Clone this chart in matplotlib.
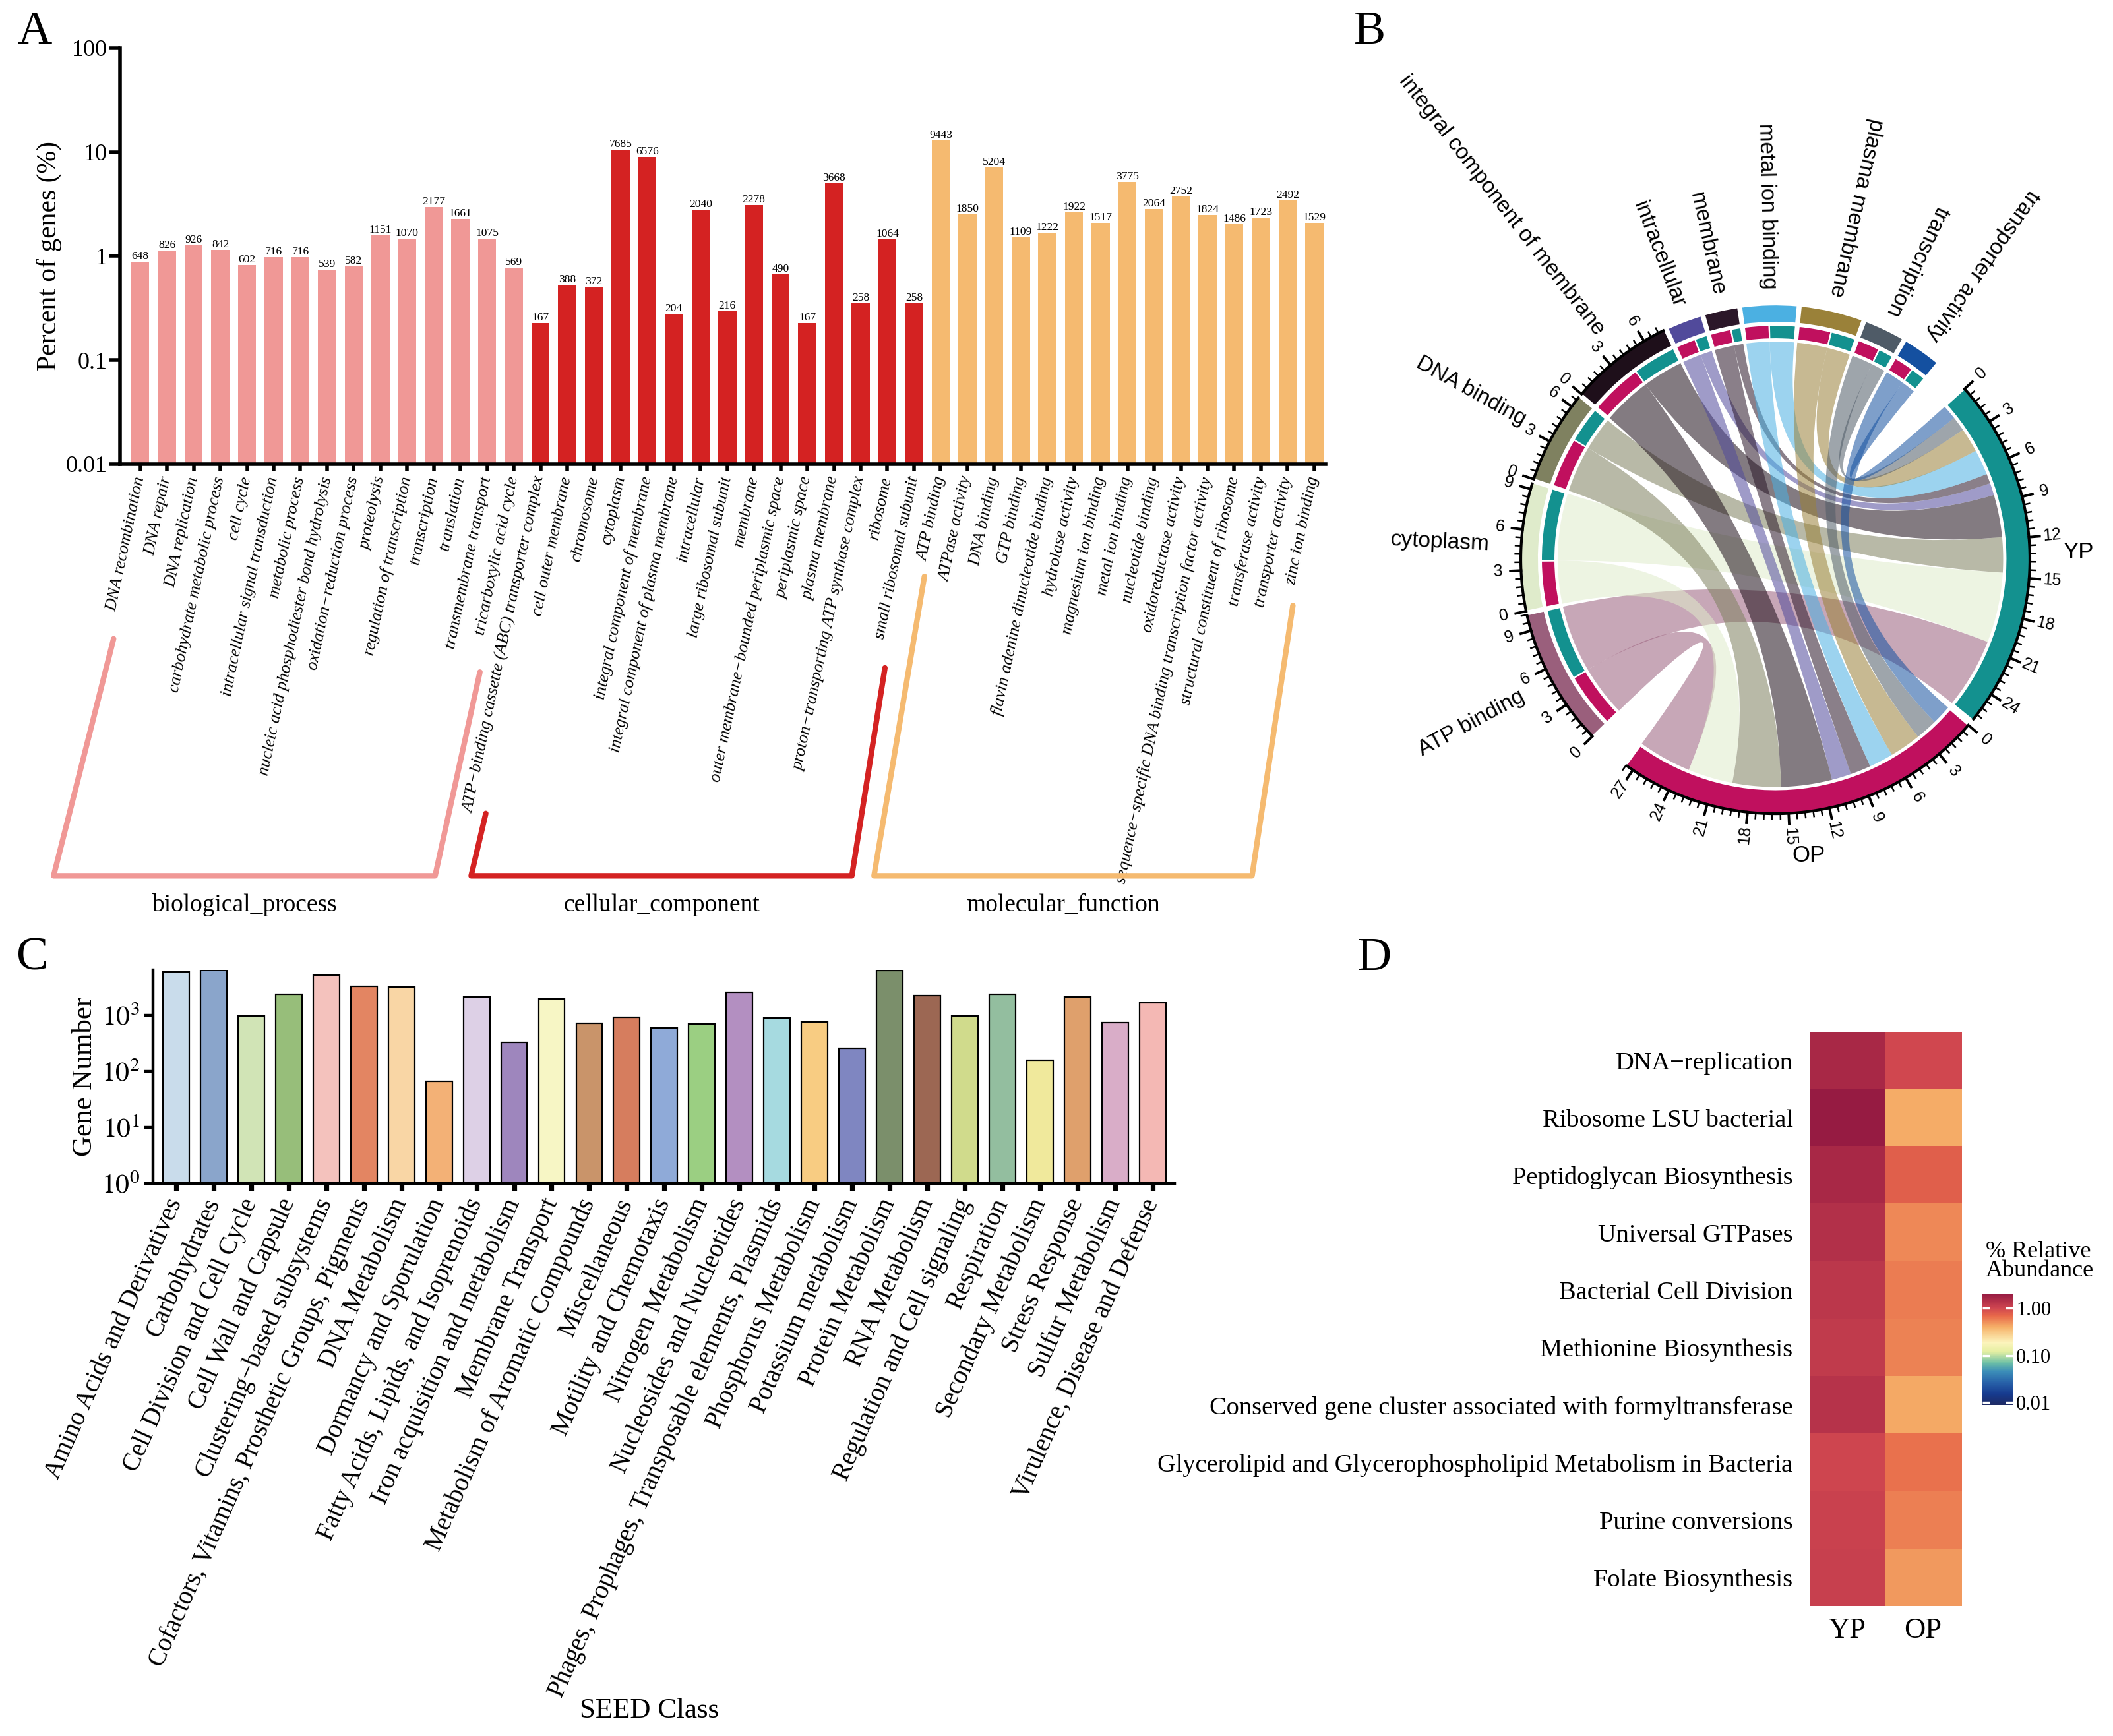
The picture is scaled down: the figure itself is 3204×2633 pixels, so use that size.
import numpy as np
import matplotlib
matplotlib.use("Agg")
import matplotlib.pyplot as plt
import matplotlib.transforms as mtransforms
from matplotlib.path import Path
from matplotlib.patches import PathPatch, Wedge
from matplotlib.colors import LinearSegmentedColormap, LogNorm
from matplotlib.ticker import NullLocator

plt.rcParams["font.family"] = ["Liberation Serif", "DejaVu Serif"]
plt.rcParams["mathtext.fontset"] = "stix"

#panel A - GO terms and gene counts
bp_terms = ["DNA recombination", "DNA repair", "DNA replication", "carbohydrate metabolic process",
            "cell cycle", "intracellular signal transduction", "metabolic process",
            "nucleic acid phosphodiester bond hydrolysis", "oxidation\u2212reduction process",
            "proteolysis", "regulation of transcription", "transcription", "translation",
            "transmembrane transport", "tricarboxylic acid cycle"]
bp_counts = [648, 826, 926, 842, 602, 716, 716, 539, 582, 1151, 1070, 2177, 1661, 1075, 569]

cc_terms = ["ATP\u2212binding cassette (ABC) transporter complex", "cell outer membrane", "chromosome",
            "cytoplasm", "integral component of membrane", "integral component of plasma membrane",
            "intracellular", "large ribosomal subunit", "membrane",
            "outer membrane\u2212bounded periplasmic space", "periplasmic space", "plasma membrane",
            "proton\u2212transporting ATP synthase complex", "ribosome", "small ribosomal subunit"]
cc_counts = [167, 388, 372, 7685, 6576, 204, 2040, 216, 2278, 490, 167, 3668, 258, 1064, 258]

mf_terms = ["ATP binding", "ATPase activity", "DNA binding", "GTP binding",
            "flavin adenine dinucleotide binding", "hydrolase activity", "magnesium ion binding",
            "metal ion binding", "nucleotide binding", "oxidoreductase activity",
            "sequence\u2212specific DNA binding transcription factor activity",
            "structural constituent of ribosome", "transferase activity", "transporter activity",
            "zinc ion binding"]
mf_counts = [9443, 1850, 5204, 1109, 1222, 1922, 1517, 3775, 2064, 2752, 1824, 1486, 1723, 2492, 1529]

total_genes = 73190
group_names = ["biological_process", "cellular_component", "molecular_function"]
group_colors = ["#F09896", "#D42222", "#F5BA70"]

#panel B - chord data (GO term -> OP / YP)
chord_terms = ["ATP binding", "cytoplasm", "DNA binding", "integral component of membrane",
               "intracellular", "membrane", "metal ion binding", "plasma membrane",
               "transcription", "transporter activity"]
op_vals = [4.4, 3.7, 4.0, 4.2, 1.6, 1.7, 2.0, 2.6, 1.8, 1.6]
yp_vals = [5.8, 5.8, 2.9, 3.5, 1.0, 0.8, 2.1, 2.0, 1.2, 1.2]
chord_colors = ["#9A5F7C", "#DFEBCB", "#7F8160", "#1E0F1A", "#514A9B", "#2B1729",
                "#4BB0E2", "#9A8139", "#4F5B67", "#1450A0"]
yp_color = "#13918F"
op_color = "#C0105E"

#panel C - SEED classes
seed_classes = ["Amino Acids and Derivatives", "Carbohydrates", "Cell Division and Cell Cycle",
                "Cell Wall and Capsule", "Clustering\u2212based subsystems",
                "Cofactors, Vitamins, Prosthetic Groups, Pigments", "DNA Metabolism",
                "Dormancy and Sporulation", "Fatty Acids, Lipids, and Isoprenoids",
                "Iron acquisition and metabolism", "Membrane Transport",
                "Metabolism of Aromatic Compounds", "Miscellaneous", "Motility and Chemotaxis",
                "Nitrogen Metabolism", "Nucleosides and Nucleotides",
                "Phages, Prophages, Transposable elements, Plasmids", "Phosphorus Metabolism",
                "Potassium metabolism", "Protein Metabolism", "RNA Metabolism",
                "Regulation and Cell signaling", "Respiration", "Secondary Metabolism",
                "Stress Response", "Sulfur Metabolism", "Virulence, Disease and Defense"]
seed_counts = [6000, 6530, 980, 2350, 5280, 3300, 3235, 66, 2110, 330, 1980, 727, 919, 600,
               697, 2560, 900, 759, 256, 6270, 2250, 980, 2350, 156, 2110, 740, 1670]
seed_colors = ["#C9DCEB", "#8AA5CB", "#D1E4B6", "#97BE7A", "#F4C2BD", "#E38562", "#F9D6A5",
               "#F3B176", "#DDD0E6", "#9E86BD", "#F7F6C5", "#C9946A", "#D67D5E", "#8FAAD8",
               "#9BCF82", "#B38FC1", "#A6DAE0", "#F8CC82", "#7F86C1", "#7B8F6B", "#9C6753",
               "#D0DB8C", "#93BE9F", "#F0E99C", "#DFA06C", "#D9ADC8", "#F4B8B4"]

#panel D - relative abundance heatmap
pathways = ["DNA\u2212replication", "Ribosome LSU bacterial", "Peptidoglycan Biosynthesis",
            "Universal GTPases", "Bacterial Cell Division", "Methionine Biosynthesis",
            "Conserved gene cluster associated with formyltransferase",
            "Glycerolipid and Glycerophospholipid Metabolism in Bacteria",
            "Purine conversions", "Folate Biosynthesis"]
yp_abund = [1.60, 1.95, 1.58, 1.41, 1.26, 1.17, 1.33, 1.00, 1.06, 1.09]
op_abund = [0.98, 0.41, 0.75, 0.54, 0.58, 0.565, 0.42, 0.64, 0.57, 0.47]
samples = ["YP", "OP"]


fig = plt.figure(figsize=(16.02, 13.165), dpi=200)

# ---------------- A ----------------
axA = fig.add_axes([0.0568, 0.7327, 0.5706, 0.2396])
terms = bp_terms + cc_terms + mf_terms
counts = bp_counts + cc_counts + mf_counts
bar_cols = [group_colors[0]] * len(bp_terms) + [group_colors[1]] * len(cc_terms) + [group_colors[2]] * len(mf_terms)
xa = np.arange(len(terms))
pct = np.array(counts) / total_genes * 100
axA.bar(xa, pct, width=0.68, color=bar_cols)
for xi, p, c in zip(xa, pct, counts):
    axA.text(xi, p, str(c), ha="center", va="bottom", fontsize=6.3)
axA.set_yscale("log")
axA.set_ylim(0.01, 100)
axA.set_xlim(-0.76, len(terms) - 0.57)
axA.set_yticks([0.01, 0.1, 1, 10, 100])
axA.set_yticklabels(["0.01", "0.1", "1", "10", "100"])
axA.yaxis.set_minor_locator(NullLocator())
axA.set_xticks(xa)
axA.set_xticklabels(terms, rotation=78, ha="right", va="center", rotation_mode="anchor",
                    fontsize=9.3, fontstyle="italic")
for s in ["top", "right"]:
    axA.spines[s].set_visible(False)
for s in ["left", "bottom"]:
    axA.spines[s].set_linewidth(2)
axA.tick_params(axis="y", length=6, width=2, labelsize=13, pad=1)
axA.tick_params(axis="x", length=4, width=2, pad=3)
axA.set_ylabel("Percent of genes (%)", fontsize=15, labelpad=2)

#brackets under the three GO groups
trA = mtransforms.blended_transform_factory(axA.transData, axA.transAxes)
n1, n2 = len(bp_terms), len(bp_terms) + len(cc_terms)
groups = [(0, n1 - 1), (n1, n2 - 1), (n2, len(terms) - 1)]
bracket_geo = [(-1.0, -0.42, -3.25, -2.95, -1.27, -0.50),
               (-2.05, -0.84, -2.6, -2.33, -1.09, -0.49),
               (-0.61, -0.27, -2.5, -2.33, -0.80, -0.34)]
for (first, last), col, name, geo in zip(groups, group_colors, group_names, bracket_geo):
    tl_dx, tl_y, bl_dx, br_dx, tr_dx, tr_y = geo
    xs = [first + tl_dx, first + bl_dx, last + br_dx, last + tr_dx]
    ys = [tl_y, -0.99, -0.99, tr_y]
    axA.plot(xs, ys, color=col, lw=3, transform=trA, clip_on=False,
             solid_capstyle="round", solid_joinstyle="round")
    axA.text((xs[1] + xs[2]) / 2, -1.06, name, transform=trA, ha="center", va="center",
             fontsize=13.5)

# ---------------- B ----------------
axB = fig.add_axes([0.6595, 0.4580, 0.3614, 0.4398])
axB.set_xlim(-1.5, 1.5)
axB.set_ylim(-1.5, 1.5)
axB.axis("off")


def pol(r, a):
    return (r * np.cos(np.radians(a)), r * np.sin(np.radians(a)))


def ribbon(s1, s2, rs, t1, t2, rt, n=40):
    arc_s = [pol(rs, a) for a in np.linspace(s1, s2, n)]
    arc_t = [pol(rt, a) for a in np.linspace(t1, t2, n)]
    verts = arc_s + [(0, 0), arc_t[0]] + arc_t[1:] + [(0, 0), arc_s[0], arc_s[0]]
    codes = ([Path.MOVETO] + [Path.LINETO] * (n - 1) + [Path.CURVE3] * 2 +
             [Path.LINETO] * (n - 1) + [Path.CURVE3] * 2 + [Path.CLOSEPOLY])
    return Path(verts, codes)


nb = len(chord_terms)
sec_names = ["YP", "OP"] + chord_terms
sec_vals = [sum(yp_vals), sum(op_vals)] + [o + y for o, y in zip(op_vals, yp_vals)]
sec_cols = [yp_color, op_color] + chord_colors
gaps = [1.5, 10] + [0.8] * (nb - 1) + [8.5]
unit = (360 - sum(gaps)) / sum(sec_vals)
starts = []
a = 42.0
for v, g in zip(sec_vals, gaps):
    starts.append(a)
    a -= v * unit + g

#positions of links on YP / OP (reverse term order)
yp_arc, op_arc = {}, {}
ay, ao = starts[0], starts[1]
for i in reversed(range(nb)):
    yp_arc[i] = (ay, ay - yp_vals[i] * unit)
    ay -= yp_vals[i] * unit
    op_arc[i] = (ao, ao - op_vals[i] * unit)
    ao -= op_vals[i] * unit

r_go_link, r_grp_link = 0.855, 0.895
for i in range(nb):
    s = starts[i + 2]
    m = s - op_vals[i] * unit
    e = m - yp_vals[i] * unit
    p1 = ribbon(s, m, r_go_link, op_arc[i][0], op_arc[i][1], r_grp_link)
    p2 = ribbon(m, e, r_go_link, yp_arc[i][0], yp_arc[i][1], r_grp_link)
    for p in (p1, p2):
        axB.add_patch(PathPatch(p, fc=chord_colors[i], ec="none", alpha=0.55))
    #outer and inner tracks
    axB.add_patch(Wedge((0, 0), 1.0, e, s, width=0.07, fc=chord_colors[i], ec="white", lw=0.8))
    axB.add_patch(Wedge((0, 0), 0.92, m, s, width=0.055, fc=op_color, ec="white", lw=0.8))
    axB.add_patch(Wedge((0, 0), 0.92, e, m, width=0.055, fc=yp_color, ec="white", lw=0.8))

for k in range(2):
    s = starts[k]
    e = s - sec_vals[k] * unit
    axB.add_patch(Wedge((0, 0), 1.0, e, s, width=0.095, fc=sec_cols[k], ec="white", lw=0.8))

#axis, ticks and labels (small sectors get no axis)
for k in range(len(sec_names)):
    s = starts[k]
    v = sec_vals[k]
    mid = s - v * unit / 2
    if v >= 5:
        arc = np.array([pol(1.0, a) for a in np.linspace(s, s - v * unit, 60)])
        axB.plot(arc[:, 0], arc[:, 1], color="black", lw=1.5, solid_capstyle="butt")
        for t in np.arange(0, v + 1e-9, 0.6):
            ang = s - t * unit
            x0, y0 = pol(1.0, ang)
            x1, y1 = pol(1.022, ang)
            axB.plot([x0, x1], [y0, y1], color="black", lw=0.9)
        for t in np.arange(0, v + 1e-9, 3):
            ang = s - t * unit
            x0, y0 = pol(1.0, ang)
            x1, y1 = pol(1.042, ang)
            axB.plot([x0, x1], [y0, y1], color="black", lw=1.4)
            an = (ang + 180) % 360 - 180
            rot = an if -90 <= an <= 90 else an - 180
            xt, yt = pol(1.09, ang)
            axB.text(xt, yt, str(int(t)), rotation=rot, rotation_mode="anchor", ha="center",
                     va="center", fontsize=9, family="Liberation Sans")
    if k < 2:
        ca, sa = np.cos(np.radians(mid)), np.sin(np.radians(mid))
        ha = "left" if ca > 0.5 else ("right" if ca < -0.5 else "center")
        va = "bottom" if sa > 0.5 else ("top" if sa < -0.5 else "center")
        xt, yt = pol(1.13, mid)
        axB.text(xt, yt, sec_names[k], ha=ha, va=va, fontsize=12.5, family="Liberation Sans")
    else:
        r_lab = 1.125 if v >= 5 else 1.06
        xt, yt = pol(r_lab, mid)
        axB.text(xt, yt, sec_names[k], rotation=(mid + 180) % 360, rotation_mode="anchor",
                 ha="right", va="center", fontsize=12, family="Liberation Sans")

# ---------------- C ----------------
axC = fig.add_axes([0.0723, 0.3184, 0.4835, 0.1230])
xc = np.arange(len(seed_classes))
axC.bar(xc, seed_counts, width=0.7, color=seed_colors, edgecolor="black", linewidth=0.8)
axC.set_yscale("log")
axC.set_ylim(1, max(seed_counts))
axC.set_xlim(-0.62, len(seed_classes) - 0.42)
axC.set_yticks([1, 10, 100, 1000])
axC.set_yticklabels([r"$10^{0}$", r"$10^{1}$", r"$10^{2}$", r"$10^{3}$"])
axC.yaxis.set_minor_locator(NullLocator())
axC.set_xticks(xc)
axC.set_xticklabels(seed_classes, rotation=66, ha="right", va="center", rotation_mode="anchor",
                    fontsize=14)
for s in ["top", "right"]:
    axC.spines[s].set_visible(False)
for s in ["left", "bottom"]:
    axC.spines[s].set_linewidth(1.6)
axC.tick_params(axis="y", length=5, width=1.6, labelsize=15, pad=2)
axC.tick_params(axis="x", length=4, width=2.6, pad=5)
axC.set_ylabel("Gene Number", fontsize=15.5, labelpad=2)
axC.set_xlabel("SEED Class", fontsize=15.5, va="center")
axC.xaxis.set_label_coords(0.486, -2.47)

# ---------------- D ----------------
axD = fig.add_axes([0.8563, 0.0747, 0.0718, 0.3309])
cmap = LinearSegmentedColormap.from_list("abund", [
    (0.0, "#1F2A63"), (0.10, "#163A8E"), (0.20, "#2760A8"), (0.30, "#3B8DB8"),
    (0.38, "#6DC0A6"), (0.48, "#E4EFA2"), (0.56, "#FCF4BC"), (0.70, "#F6B169"),
    (0.80, "#E8694A"), (0.87, "#CF4650"), (1.0, "#951A42")])
norm = LogNorm(vmin=0.00877, vmax=2.03)
heat = np.column_stack([yp_abund, op_abund])
im = axD.imshow(heat, aspect="auto", cmap=cmap, norm=norm, interpolation="nearest")
axD.set_yticks(np.arange(len(pathways)))
axD.set_yticklabels(pathways, fontsize=13.8)
axD.set_xticks(np.arange(len(samples)))
axD.set_xticklabels(samples, fontsize=16)
axD.tick_params(length=0)
axD.tick_params(axis="y", pad=9)
axD.tick_params(axis="x", pad=6)
for s in axD.spines.values():
    s.set_visible(False)

cax = fig.add_axes([0.9383, 0.1905, 0.0142, 0.0644])
cb = fig.colorbar(im, cax=cax)
cb.set_ticks([0.01, 0.1, 1])
cb.set_ticklabels(["0.01", "0.10", "1.00"])
cb.ax.yaxis.set_minor_locator(NullLocator())
cb.outline.set_visible(False)
cax.tick_params(which="both", color="white", direction="in", length=4, width=1.2,
                left=True, right=True, labelsize=11, pad=2)
fig.text(0.9398, 0.2852, "% Relative\nAbundance", ha="left", va="top", fontsize=13,
         linespacing=0.85)

# panel letters
for lab, (xf, yf) in zip("ABCD", [(0.0164, 0.9816), (0.6483, 0.9816), (0.0153, 0.448), (0.6505, 0.448)]):
    fig.text(xf, yf, lab, ha="center", va="center", fontsize=26)

fig.savefig("out.png", dpi=200, facecolor="white")
